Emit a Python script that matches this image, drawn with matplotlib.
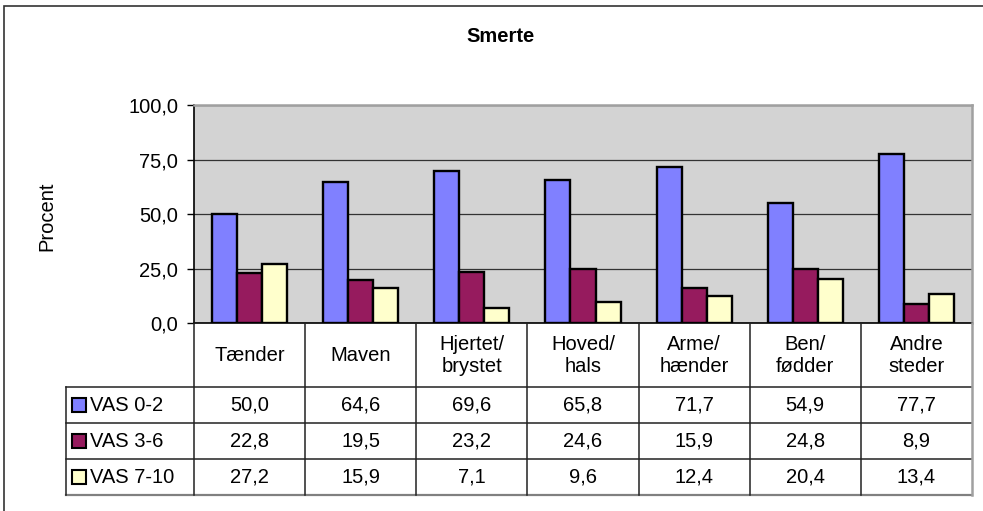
import numpy as np
import matplotlib.pyplot as plt
from matplotlib.patches import Rectangle

plt.rcParams['font.family'] = ['Liberation Sans', 'DejaVu Sans']

categories = ["Tænder", "Maven", "Hjertet/\nbrystet", "Hoved/\nhals",
              "Arme/\nhænder", "Ben/\nfødder", "Andre\nsteder"]
series = ["VAS 0-2", "VAS 3-6", "VAS 7-10"]
vas_0_2 = [50.0, 64.6, 69.6, 65.8, 71.7, 54.9, 77.7]
vas_3_6 = [22.8, 19.5, 23.2, 24.6, 15.9, 24.8, 8.9]
vas_7_10 = [27.2, 15.9, 7.1, 9.6, 12.4, 20.4, 13.4]
yticks = [0, 25, 50, 75, 100]
colors = ["#8080FF", "#961B5E", "#FFFFCC"]

W, H = 983, 511
FS = 14.5
fig = plt.figure(figsize=(W / 100, H / 100), dpi=100)


def px(x0, y0, x1, y1):
    # pixel box (top-left origin) -> figure fraction rect
    return [x0 / W, 1 - y1 / H, (x1 - x0) / W, (y1 - y0) / H]


def fmt(v):
    return f"{v:.1f}".replace(".", ",")


# outer frame
fig.patches.append(Rectangle((4 / W, -0.1), 1.1, 1 - 6 / H + 0.1, transform=fig.transFigure,
                             fill=False, edgecolor="#333333", lw=1.2))

fig.text(501 / W, 1 - 36 / H, "Smerte", ha="center", va="center",
         fontsize=FS, fontweight="bold")
fig.text(47 / W, 1 - 216 / H, "Procent", ha="center", va="center",
         rotation=90, fontsize=FS)

ax = fig.add_axes(px(194, 105, 972, 323))
ax.set_facecolor("#D3D3D3")
x = np.arange(len(categories))
w = 0.225
for i, vals in enumerate([vas_0_2, vas_3_6, vas_7_10]):
    ax.bar(x + (i - 1) * w, vals, w, color=colors[i], edgecolor="black", lw=1.7, zorder=3)
ax.set_xlim(-0.5, len(categories) - 0.5)
ax.set_ylim(0, 100)
ax.set_yticks(yticks)
ax.set_yticklabels([fmt(v) for v in yticks], fontsize=FS)
ax.tick_params(axis="y", length=5, width=1, direction="out", pad=6.5)
ax.set_xticks([])
ax.grid(axis="y", color="#333333", lw=0.9, zorder=1)
ax.spines["left"].set_color("black")
ax.spines["bottom"].set_color("black")
ax.spines["top"].set_color("#A0A0A0")
ax.spines["right"].set_color("#A0A0A0")
ax.spines["top"].set_linewidth(1.8)
ax.spines["right"].set_linewidth(1.8)
ax.spines["left"].set_linewidth(1.2)
ax.spines["bottom"].set_linewidth(1.2)

# data table below the plot, sharing the category x scale
tb = fig.add_axes(px(194, 323, 972, 495))
tb.set_xlim(-0.5, len(categories) - 0.5)
tb.set_ylim(0, 172)
tb.axis("off")
unit = 778 / len(categories)
left = -0.5 - 128 / unit
lc = "#222222"
rows = [vas_0_2, vas_3_6, vas_7_10]
row_edges = [108, 72, 36, 0]

# horizontal lines
for yv in row_edges[:-1]:
    tb.plot([left, 6.5], [yv, yv], color=lc, lw=1.1, clip_on=False)
tb.plot([left, 6.5], [0, 0], color="#808080", lw=1.6, clip_on=False)
# vertical lines
for k in range(len(categories)):
    tb.plot([k - 0.5, k - 0.5], [0, 172], color=lc, lw=1.1, clip_on=False)
tb.plot([6.5, 6.5], [0, 172], color="#A0A0A0", lw=1.8, clip_on=False)
tb.plot([left, left], [0, 108], color=lc, lw=1.1, clip_on=False)

for k, c in enumerate(categories):
    tb.text(k, 140, c, ha="center", va="center", fontsize=FS, linespacing=1.2)
    for r, vals in enumerate(rows):
        yc = (row_edges[r] + row_edges[r + 1]) / 2
        tb.text(k, yc, fmt(vals[k]), ha="center", va="center", fontsize=FS)

for r, name in enumerate(series):
    yc = (row_edges[r] + row_edges[r + 1]) / 2
    kx = left + 6 / unit
    tb.add_patch(Rectangle((kx, yc - 7), 14 / unit, 14, facecolor=colors[r],
                           edgecolor="black", lw=1.5, clip_on=False))
    tb.text(kx + 18 / unit, yc, name, ha="left", va="center", fontsize=FS)

fig.savefig("out.png", dpi=100)
